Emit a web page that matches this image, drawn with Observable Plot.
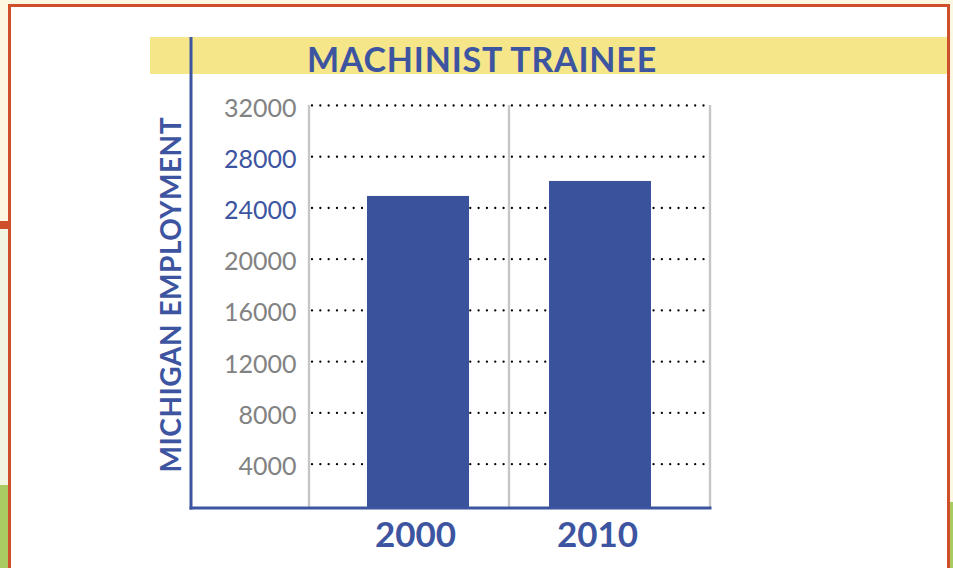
<!DOCTYPE html>
<html><head><meta charset="utf-8">
<script src="https://cdn.jsdelivr.net/npm/d3@7"></script>
<script src="https://cdn.jsdelivr.net/npm/@observablehq/plot@0.6"></script>
<style>
html,body{margin:0;padding:0;}
body{width:953px;height:568px;position:relative;overflow:hidden;background:#fdf7e2;font-family:Lato,sans-serif;}
.abs{position:absolute;}
#lband{left:0;top:229px;width:8px;height:256px;background:#f2f5e2;}
#lgreen{left:0;top:485px;width:8px;height:90px;background:#a9cb62;}
#lred{left:0;top:221px;width:8px;height:8px;background:#cf4f2a;}
#rgreen{left:949px;top:502px;width:6px;height:80px;background:#a9cb62;}
#frame{left:8px;top:4px;width:942px;height:620px;border:3px solid #cf4f2a;border-bottom:none;background:#fff;box-sizing:border-box;}
#banner{left:150px;top:37px;width:797px;height:37px;background:#f5e68a;}
#title{left:132px;top:40px;width:700px;text-align:center;font-size:34px;line-height:37px;font-weight:700;color:#3d55a0;white-space:nowrap;letter-spacing:0.8px;}
#chart{left:0;top:0;}
</style></head><body>
<div id="lband" class="abs"></div>
<div id="lgreen" class="abs"></div>
<div id="lred" class="abs"></div>
<div id="rgreen" class="abs"></div>
<div id="frame" class="abs"></div>
<div id="banner" class="abs"></div>
<div id="title" class="abs"></div>
<div id="chart" class="abs"></div>
<script>
const title = "MACHINIST TRAINEE";
const yLabel = "MICHIGAN EMPLOYMENT";
const years = ["2000", "2010"];
const employment = [24900, 26070];
const yTicks = [4000, 8000, 12000, 16000, 20000, 24000, 28000, 32000];
const highlightTicks = [24000, 28000];

const blue = "#3d55a0";
const barBlue = "#3a519b";
const gray = "#828282";

const data = years.map((year, i) => ({year, value: employment[i]}));
document.getElementById("title").textContent = title;

function decor(...args) {
  const scales = args.find(a => a && typeof a.x === "function" && typeof a.y === "function");
  const dims = args.find(a => a && a.marginLeft !== undefined && a.width !== undefined);
  const x = scales.x;
  const bw = x.bandwidth ? x.bandwidth() : 0;
  const left = dims.marginLeft, right = dims.width - dims.marginRight;
  const top = dims.marginTop, bottom = dims.height - dims.marginBottom;
  const mid = (x(years[0]) + bw + x(years[1])) / 2;
  const g = d3.create("svg:g");
  [left + 1, mid, right].forEach(px => {
    g.append("line").attr("x1", px).attr("x2", px).attr("y1", top).attr("y2", bottom)
      .attr("stroke", "#c6c6c6").attr("stroke-width", 2.4);
  });
  const axX = left - 117;
  g.append("line").attr("x1", axX).attr("x2", axX).attr("y1", 37).attr("y2", bottom + 1.5)
    .attr("stroke", blue).attr("stroke-width", 3);
  g.append("line").attr("x1", axX - 1.5).attr("x2", right + 1.5).attr("y1", bottom).attr("y2", bottom)
    .attr("stroke", blue).attr("stroke-width", 3);
  return g.node();
}

const plot = Plot.plot({
  width: 953, height: 568,
  marginLeft: 308, marginRight: 243, marginTop: 105, marginBottom: 60,
  style: {background: "transparent", fontFamily: "Lato, sans-serif", overflow: "visible"},
  x: {domain: years, paddingInner: 0.44, paddingOuter: 0.324, align: 0.5, label: null},
  y: {domain: [540, 32000], axis: null, label: null},
  color: {type: "identity"},
  marks: [
    Plot.ruleY(yTicks, {y: d => d, stroke: "#000", strokeWidth: 2.3, strokeDasharray: "0,8.33", strokeLinecap: "round", strokeDashoffset: -4}),
    Plot.barY(data, {x: "year", y: "value", fill: barBlue, clip: true}),
    decor,
    Plot.text(yTicks, {y: d => d, text: d => String(d), frameAnchor: "left", dx: -12, dy: 3, textAnchor: "end", fontSize: 25, fill: d => highlightTicks.includes(d) ? blue : gray}),
    Plot.text([yLabel], {text: d => d, frameAnchor: "left", textAnchor: "middle", dx: -136, dy: -12, rotate: -90, fontSize: 28, fontWeight: 700, fill: blue}),
    Plot.axisX({tickSize: 0, tickPadding: 14, dx: -3, fontSize: 35, fontWeight: 700, fill: blue, label: null})
  ]
});
d3.select(plot).selectAll("text").filter(function() { return this.textContent === yLabel; })
  .attr("textLength", 355).attr("lengthAdjust", "spacing");
document.getElementById("chart").appendChild(plot);
</script>
</body></html>
